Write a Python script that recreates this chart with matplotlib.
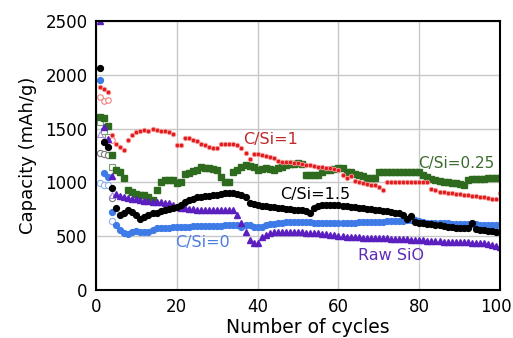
import matplotlib
matplotlib.use('Agg')
import matplotlib.pyplot as plt
import matplotlib.transforms as mtransforms
import numpy as np

# cycle numbers
cycles = np.arange(1, 101)

# charge capacities (filled markers), mAh/g
cSi1 = [1890, 1870, 1840, 1440, 1355, 1330, 1300, 1395, 1440, 1465,
        1480, 1485, 1475, 1495, 1485, 1480, 1480, 1470, 1450, 1345,
        1350, 1410, 1410, 1390, 1380, 1360, 1345, 1330, 1315, 1320,
        1355, 1360, 1360, 1355, 1350, 1320, 1270, 1220, 1265, 1260,
        1250, 1245, 1235, 1225, 1200, 1190, 1185, 1185, 1180, 1180,
        1170, 1165, 1160, 1150, 1145, 1140, 1135, 1130, 1120, 1115,
        1070, 1040, 1060, 1010, 1000, 990, 985, 975, 975, 960,
        930, 1000, 1005, 1005, 1005, 1005, 1005, 1005, 1005, 1005,
        1005, 1000, 935, 925, 915, 910, 905, 900, 895, 890,
        885, 880, 875, 870, 865, 860, 855, 850, 845, 900]
cSi025 = [1610, 1600, 1520, 1250, 1115, 1100, 1040, 930, 910, 895,
          880, 885, 860, 840, 925, 1000, 1020, 1025, 1020, 995,
          1000, 1080, 1090, 1105, 1115, 1140, 1135, 1130, 1120, 1115,
          1050, 1005, 1000, 1095, 1115, 1140, 1160, 1150, 1140, 1115,
          1125, 1130, 1120, 1115, 1130, 1145, 1160, 1170, 1175, 1180,
          1170, 1070, 1065, 1065, 1070, 1100, 1115, 1115, 1120, 1130,
          1130, 1100, 1095, 1075, 1065, 1055, 1045, 1040, 1040, 1095,
          1095, 1100, 1100, 1100, 1100, 1100, 1100, 1095, 1095, 1095,
          1070, 1050, 1030, 1020, 1010, 1005, 1000, 995, 990, 985,
          975, 1020, 1030, 1035, 1035, 1035, 1040, 1040, 1040, 1040]
cSi15 = [2060, 1375, 1330, 945, 760, 700, 715, 740, 725, 700,
         660, 680, 700, 715, 720, 730, 745, 755, 765, 770,
         790, 820, 835, 850, 860, 865, 870, 875, 880, 885,
         890, 900, 905, 900, 890, 880, 865, 810, 800, 790,
         785, 780, 775, 770, 765, 760, 755, 750, 745, 745,
         740, 735, 720, 760, 780, 790, 790, 790, 790, 790,
         785, 780, 775, 770, 765, 760, 755, 750, 745, 740,
         735, 730, 725, 720, 715, 700, 660, 690, 630, 625,
         620, 615, 610, 605, 600, 595, 590, 585, 580, 580,
         575, 575, 625, 570, 560, 555, 550, 545, 540, 540]
cSi0 = [1950, 1090, 1050, 725, 605, 560, 530, 525, 540, 545,
        540, 535, 540, 555, 575, 575, 580, 580, 585, 585,
        585, 590, 590, 592, 594, 595, 596, 597, 598, 598,
        599, 600, 600, 600, 600, 590, 600, 600, 590, 585,
        590, 600, 610, 615, 620, 625, 630, 630, 632, 635,
        632, 630, 628, 626, 625, 622, 622, 622, 624, 624,
        625, 625, 626, 626, 628, 628, 628, 630, 630, 632,
        635, 637, 640, 642, 645, 645, 648, 650, 650, 640,
        630, 625, 622, 620, 620, 618, 618, 616, 615, 614,
        612, 612, 610, 610, 608, 608, 606, 606, 605, 605]
rawSiO = [2500, 1510, 1400, 1060, 890, 875, 865, 855, 850, 845,
          835, 830, 825, 820, 818, 815, 810, 805, 790, 775,
          765, 760, 755, 750, 748, 745, 745, 745, 745, 745,
          745, 745, 745, 745, 700, 620, 540, 465, 440, 440,
          490, 515, 530, 535, 540, 540, 540, 540, 540, 538,
          535, 534, 532, 531, 530, 525, 520, 515, 510, 505,
          500, 495, 490, 490, 488, 487, 486, 485, 484, 483,
          483, 480, 478, 476, 474, 472, 470, 468, 466, 465,
          460, 458, 456, 454, 452, 450, 448, 446, 445, 444,
          443, 442, 441, 440, 438, 437, 430, 420, 410, 400]

# discharge capacities (open markers), first cycles
openCycles = [1, 2, 3, 4]
cSi1_open = [1790, 1755, 1770, 1390]
cSi025_open = [1560, 1480, 1420, 1140]
cSi15_open = [1275, 1265, 1255, 855]
cSi0_open = [995, 975, 975, 640]
rawSiO_open = [1450, 1390, 1350, 880]

fig = plt.figure(figsize=(5.13, 3.38), dpi=100)
panel = plt.axes([0.187, 0.142, 0.788, 0.796])

red = '#e31a1c'
green = '#2f6b1e'
blue = '#3f7be6'
purple = '#5b1fc0'

panel.plot(openCycles, cSi025_open, 's', ms=5, mfc='white', mec='#7a9a70', mew=0.8, ls='none')
panel.plot(openCycles, cSi1_open, 'o', ms=4, mfc='white', mec='#f08080', mew=0.8, ls='none')
panel.plot(openCycles, cSi15_open, 'o', ms=4.5, mfc='white', mec='#777777', mew=0.8, ls='none')
panel.plot(openCycles, cSi0_open, 'o', ms=4.5, mfc='white', mec='#8fb0f0', mew=0.8, ls='none')
panel.plot(openCycles, rawSiO_open, '^', ms=4.5, mfc='white', mec='#a58be0', mew=0.8, ls='none')

panel.plot(cycles, cSi025, 's', ms=5, color=green, ls='none')
panel.plot(cycles, cSi0, 'o', ms=4.2, color=blue, ls='none')
panel.plot(cycles, rawSiO, '^', ms=4.2, color=purple, ls='none')
panel.plot(cycles, cSi15, 'o', ms=4.2, color='black', ls='none')
panel.plot(cycles, cSi1, 'o', ms=3.3, mfc=red, mec='#f4a0a0', mew=0.6, ls='none')

panel.text(36.4, 1394, 'C/Si=1', color='#c0282a', fontsize=11.5, ha='left', va='center')
panel.text(79.7, 1180, 'C/Si=0.25', color='#3d6b2e', fontsize=11, ha='left', va='center')
panel.text(45.5, 883, 'C/Si=1.5', color='black', fontsize=11.5, ha='left', va='center')
panel.text(19.6, 437, 'C/Si=0', color='#4a7ddf', fontsize=11.5, ha='left', va='center')
panel.text(64.9, 316, 'Raw SiO', color='#5f2bb8', fontsize=11.5, ha='left', va='center')

panel.set_xlim(0, 100)
panel.set_ylim(0, 2500)
panel.set_xticks([0, 20, 40, 60, 80, 100])
panel.set_yticks([0, 500, 1000, 1500, 2000, 2500])
panel.grid(True, color='#c8c8c8', linewidth=1)
panel.set_axisbelow(True)
panel.tick_params(length=0, labelsize=12, pad=6)
for s in panel.spines.values():
    s.set_linewidth(1.5)
panel.set_xlabel('Number of cycles', fontsize=13.5)
panel.xaxis.set_label_coords(0.525, -0.105)
panel.set_ylabel('Capacity (mAh/g)', fontsize=13, labelpad=6)

# nudge the last x tick label so it stays inside the image
lastLabel = panel.get_xticklabels()[-1]
lastLabel.set_transform(lastLabel.get_transform() +
                        mtransforms.ScaledTranslation(-4 / 100, 0, fig.dpi_scale_trans))

plt.savefig('out.png', dpi=100)
